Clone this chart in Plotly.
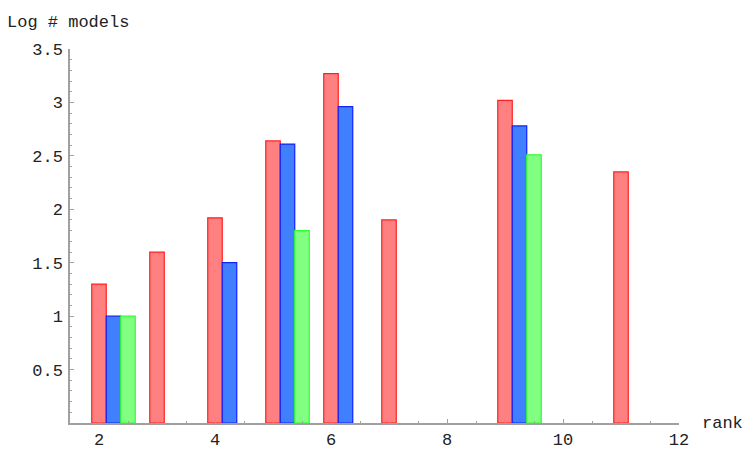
import plotly.graph_objects as go

# ranks and log model counts
red_rank = [2, 3, 4, 5, 6, 7, 9, 11]
red_vals = [1.30, 1.60, 1.92, 2.64, 3.27, 1.90, 3.02, 2.35]

blue_rank = [2, 4, 5, 6, 9]
blue_vals = [1.00, 1.50, 2.61, 2.96, 2.78]

green_rank = [2, 5, 9]
green_vals = [1.00, 1.80, 2.51]

bar_w = 0.25
font_fam = "Courier New, Liberation Mono, monospace"

series = [
    (red_rank, red_vals, 0.0, "#ff8080", "#ff2020"),
    (blue_rank, blue_vals, 0.25, "#4080ff", "#1020ff"),
    (green_rank, green_vals, 0.5, "#80ff80", "#30ff30"),
]

fig = go.Figure()
for ranks, vals, off, fill, edge in series:
    fig.add_trace(
        go.Bar(
            x=[r + off for r in ranks],
            y=vals,
            width=bar_w,
            marker=dict(color=fill, line=dict(color=edge, width=1.2)),
            showlegend=False,
        )
    )

axis_col = "#a0a0a0"
fig.update_layout(
    width=747,
    height=462,
    margin=dict(l=70, r=68, t=49, b=36),
    plot_bgcolor="white",
    paper_bgcolor="white",
    barmode="overlay",
    font=dict(family=font_fam, size=17, color="#222222"),
    xaxis=dict(
        range=[1.5, 12],
        tickvals=[2, 4, 6, 8, 10, 12],
        showgrid=False,
        zeroline=False,
        showline=True,
        linecolor=axis_col,
        linewidth=1.5,
        ticks="inside",
        ticklen=4,
        tickcolor=axis_col,
        minor=dict(ticks="inside", dtick=0.5, ticklen=2, tickcolor=axis_col),
    ),
    yaxis=dict(
        range=[0, 3.5],
        tickvals=[0.5, 1, 1.5, 2, 2.5, 3, 3.5],
        ticktext=["0.5", "1", "1.5", "2", "2.5", "3", "3.5"],
        showgrid=False,
        zeroline=False,
        showline=True,
        linecolor=axis_col,
        linewidth=1.5,
        ticks="inside",
        ticklen=4,
        tickcolor=axis_col,
        ticklabelstandoff=2,
        minor=dict(ticks="inside", dtick=0.1, ticklen=2, tickcolor=axis_col),
    ),
    annotations=[
        dict(text="Log # models", xref="paper", yref="paper",
             x=-65 / 609, y=1 + 27 / 377, xanchor="left", yanchor="middle",
             showarrow=False),
        dict(text="rank", xref="paper", yref="paper",
             x=(700 - 70) / 609, y=0, xanchor="left", yanchor="middle",
             showarrow=False),
    ],
)

# drop the browser's default body margin so the figure sits at the corner
fig.write_html("out.html", config={"displayModeBar": False},
               post_script="document.body.style.margin='0';")
